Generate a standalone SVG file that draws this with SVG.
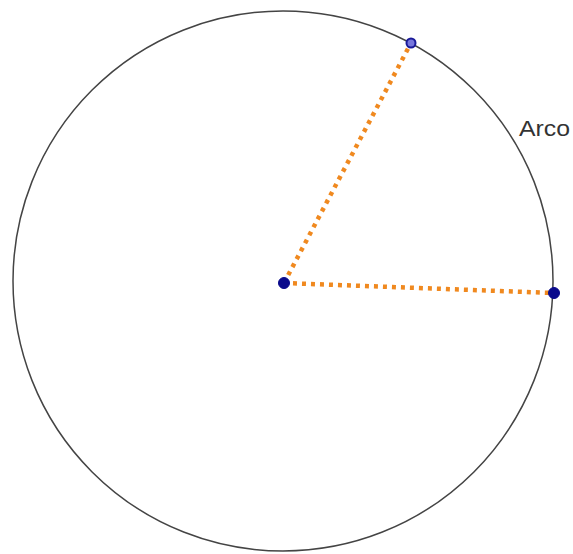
<svg xmlns="http://www.w3.org/2000/svg" width="573" height="554" viewBox="0 0 573 554">
<style>
.seg{stroke:#f0891f;stroke-width:4.5;stroke-dasharray:4 5;fill:none}
.pt{fill:#0a0a8c;stroke:#0a0a8c;stroke-width:1}
.lbl{font-family:"Liberation Sans",Arial,sans-serif;font-size:22px;fill:#333}
</style>
<rect width="573" height="554" fill="#fff"/>
<g id="circle"><circle cx="283" cy="281" r="270" fill="none" stroke="#444" stroke-width="1.5"/></g>
<g id="connectors">
<line class="seg" x1="284" y1="283" x2="411" y2="43"/>
<line class="seg" x1="284" y1="283" x2="554" y2="293"/>
</g>
<g id="center"><circle class="pt" cx="284" cy="283" r="5.5"/></g>
<g id="pointA"><circle cx="411" cy="43" r="4.5" fill="#7777dd" stroke="#1a1a99" stroke-width="2"/></g>
<g id="pointB"><circle class="pt" cx="554" cy="293" r="5.5"/></g>
<g id="label"><text class="lbl" x="519" y="136" textLength="51" lengthAdjust="spacingAndGlyphs">Arco</text></g>
</svg>
